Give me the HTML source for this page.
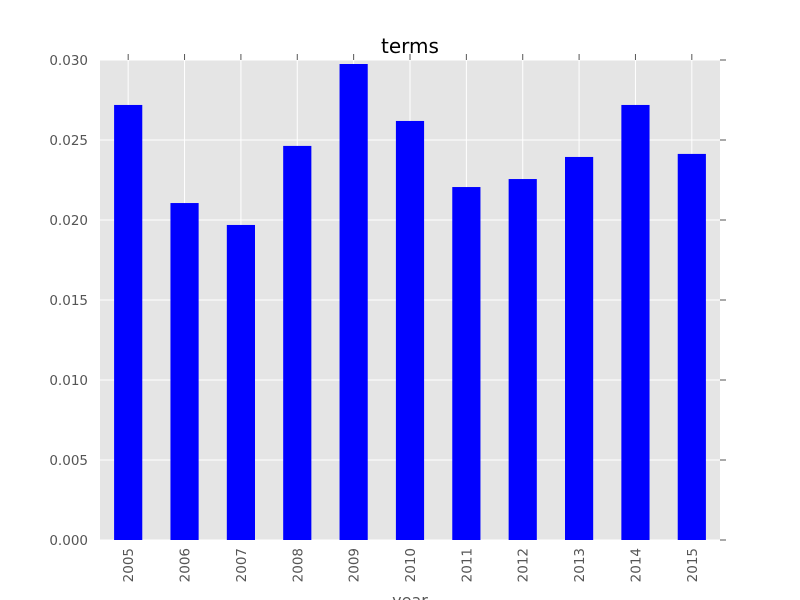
<!DOCTYPE html>
<html><head><meta charset="utf-8"><style>
body{margin:0;background:#fff;}
svg{display:block;font-family:"DejaVu Sans","Liberation Sans",sans-serif;}
</style></head><body>
<svg id="chart" width="800" height="600"></svg>
<script>
const categories=["2005","2006","2007","2008","2009","2010","2011","2012","2013","2014","2015"];
const values=[0.02719,0.02106,0.01969,0.02463,0.02975,0.02619,0.02206,0.02256,0.02394,0.02719,0.02413];
const yTicks=[0,0.005,0.010,0.015,0.020,0.025,0.030];
const yTickLabels=["0.000","0.005","0.010","0.015","0.020","0.025","0.030"];
const NS="http://www.w3.org/2000/svg";
const svg=document.getElementById('chart');
const L=100,R=720,T=60,B=540,yMax=0.030;
const y=v=>B-(v/yMax)*(B-T);
const step=(R-L)/categories.length;
const xc=i=>L+step*(i+0.5);
function mk(tag,attrs,parent){const e=document.createElementNS(NS,tag);for(const k in attrs)e.setAttribute(k,attrs[k]);(parent||svg).appendChild(e);return e;}
const bg=mk('rect',{x:L,y:T,width:R-L,height:B-T,fill:'#e5e5e5'});


yTicks.forEach((t,i)=>{
  const g=mk('line',{x1:L,x2:R,y1:y(t),y2:y(t),stroke:'#fff','stroke-width':1});
  
  
  mk('line',{x1:R,x2:R+6,y1:y(t),y2:y(t),stroke:'#555'});
  const tx=mk('text',{x:L-12,y:y(t)+5,'text-anchor':'end','font-size':13.5,fill:'#555'});
  tx.textContent=yTickLabels[i];
  
  
});
categories.forEach((c,i)=>{
  const g=mk('line',{x1:xc(i),x2:xc(i),y1:T,y2:B,stroke:'#fff','stroke-width':1});
  
  
  mk('line',{x1:xc(i),x2:xc(i),y1:T-6,y2:T,stroke:'#555'});
});
categories.forEach((c,i)=>{
  const b=mk('rect',{x:xc(i)-step/4,y:y(values[i]),width:step/2,height:B-y(values[i]),fill:'#0000ff'});
  
  
  const tx=mk('text',{x:0,y:0,'text-anchor':'end','font-size':13.5,fill:'#555',transform:`translate(${xc(i)+5},${B+8}) rotate(-90)`});
  tx.textContent=c;
  
  
});
const title=mk('text',{x:410,y:53,'text-anchor':'middle','font-size':20,fill:'#000'});
title.textContent='terms';


const xl=mk('text',{x:410,y:606,'text-anchor':'middle','font-size':16,fill:'#555'});
xl.textContent='year';


</script>
</body></html>
